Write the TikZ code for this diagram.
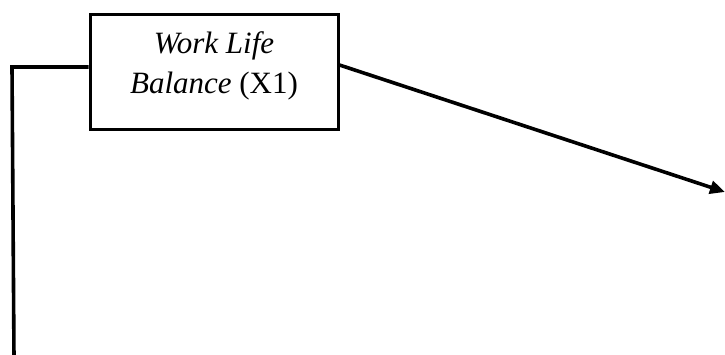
\documentclass[tikz,border=0pt]{standalone}
\usepackage{fontspec}
\setmainfont{Liberation Serif}
\usetikzlibrary{arrows.meta}
\begin{document}
\begin{tikzpicture}[x=1pt,y=-1pt,
  varbox/.style={draw, line width=3pt, minimum width=248pt, minimum height=115pt, inner sep=0pt},
  varlabel/.style={align=center, inner sep=0pt, font=\fontsize{31}{40}\selectfont},
  link/.style={line width=3.6pt, line join=miter},
  pointer/.style={link, -{Triangle[length=15pt,width=13pt]}}]
  \useasboundingbox (0,0) rectangle (725,354);
  % independent variable box
  \node[varbox] (box) at (214,71.5) {};
  \node[varlabel] (lbl) at (214,66) {\textit{Work Life}\\\textit{Balance} (X1)};
  % free ends of the connectors
  \coordinate (corner) at (12,67);
  \coordinate (bottom) at (14,358);
  \coordinate (tip) at (725,192);
  % left connector running down the page
  \draw[link] ([yshift=4.5pt]box.west) -- (corner) -- (bottom);
  % arrow leaving to the right
  \draw[pointer] ([yshift=6.5pt]box.east) -- (tip);
\end{tikzpicture}
\end{document}
